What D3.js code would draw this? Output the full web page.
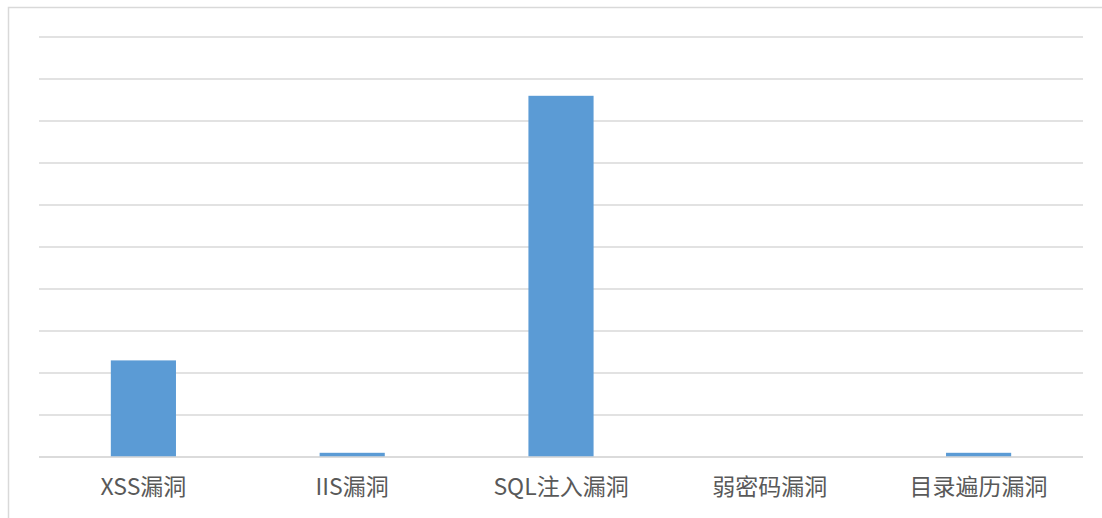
<!DOCTYPE html>
<html><head><meta charset="utf-8">
<script src="https://cdn.jsdelivr.net/npm/d3@7"></script>
<style>html,body{margin:0;padding:0;background:#fff;}svg{display:block;}</style>
</head><body>
<svg id="c" width="1102" height="518"></svg>
<script>
const categories = ["XSS漏洞", "IIS漏洞", "SQL注入漏洞", "弱密码漏洞", "目录遍历漏洞"];
const values = [2.3, 0.1, 8.6, 0, 0.1];
const yTicks = [0,1,2,3,4,5,6,7,8,9,10];

const svg = d3.select("#c");
const W = 1102, H = 518;
const m = {left: 39, right: 19, top: 37, bottom: 61};
const x = d3.scaleBand().domain(categories).range([m.left, W - m.right]).paddingInner(0).paddingOuter(0);
const y = d3.scaleLinear().domain([0, 10]).range([H - m.bottom, m.top]);

// frame
svg.append("rect").attr("x", 8.5).attr("y", 7.5).attr("width", 1100).attr("height", 520)
  .attr("fill", "none").attr("stroke", "#d9d9d9").attr("stroke-width", 1.5);

// gridlines
svg.append("g").selectAll("line").data(yTicks).join("line")
  .attr("x1", m.left).attr("x2", W - m.right)
  .attr("y1", d => y(d)).attr("y2", d => y(d))
  .attr("stroke", "#d9d9d9").attr("stroke-width", 1.5);

const bw = x.bandwidth() * 0.312;
svg.append("g").selectAll("rect").data(values).join("rect")
  .attr("x", (d, i) => x(categories[i]) + x.bandwidth() / 2 - bw / 2)
  .attr("width", bw)
  .attr("y", d => y(d))
  .attr("height", d => y(0) - y(d))
  .attr("fill", "#5b9bd5");

// baseline redraw over bars
svg.append("line").attr("x1", m.left).attr("x2", W - m.right)
  .attr("y1", y(0)).attr("y2", y(0)).attr("stroke", "#d9d9d9").attr("stroke-width", 1.5);

// x axis labels
const xAxis = d3.axisBottom(x).tickSize(0).tickPadding(0);
const g = svg.append("g").attr("transform", `translate(0,${y(0)})`).call(xAxis);
g.select(".domain").remove();
g.selectAll("text").attr("dy", null).attr("y", 38)
  .attr("font-family", "'Noto Sans CJK SC', 'Noto Sans', sans-serif")
  .attr("font-size", 23).attr("fill", "#595959");
</script>
</body></html>
